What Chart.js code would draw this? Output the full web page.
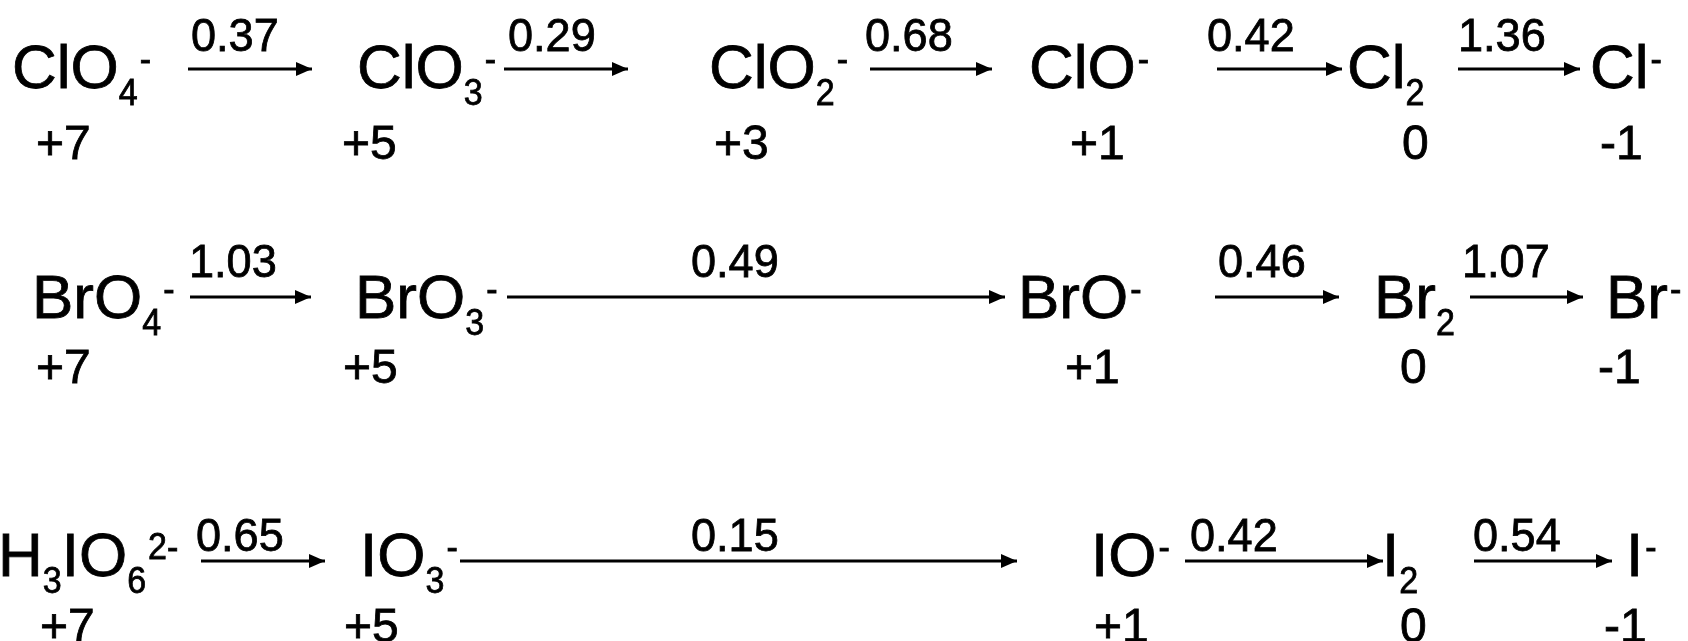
<!DOCTYPE html>
<html>
<head>
<meta charset="utf-8">
<title>Latimer diagram</title>
<script src="https://cdn.jsdelivr.net/npm/chart.js@4.4.0/dist/chart.umd.min.js"></script>
<style>
body{margin:0;background:#fff;}
#wrap{width:1688px;height:641px;}
</style>
</head>
<body>
<div id="wrap"><canvas id="myChart"></canvas></div>
<script>
// 화학종 ( _ = 다음 한 글자 아래첨자, ^ = 나머지 위첨자 )
var clSpecies = ['ClO_4^-', 'ClO_3^-', 'ClO_2^-', 'ClO^-', 'Cl_2', 'Cl^-'];
var brSpecies = ['BrO_4^-', 'BrO_3^-', 'BrO^-', 'Br_2', 'Br^-'];
var iSpecies = ['H_3IO_6^2-', 'IO_3^-', 'IO^-', 'I_2', 'I^-'];

// 산화수
var clOx = ['+7', '+5', '+3', '+1', '0', '-1'];
var brOx = ['+7', '+5', '+1', '0', '-1'];
var iOx = ['+7', '+5', '+1', '0', '-1'];

// 표준 환원 전위 (V)
var clPot = [0.37, 0.29, 0.68, 0.42, 1.36];
var brPot = [1.03, 0.49, 0.46, 1.07];
var iPot = [0.65, 0.15, 0.42, 0.54];

// 배치 (축 단위 = 1688x641 화면)
var speciesY = [88, 318, 576];
var oxY = [159, 383, 642];
var potY = [51, 277, 551];
var arrowY = [69, 297, 561];

var clSpeciesX = [12, 357, 709, 1029, 1347, 1590];
var brSpeciesX = [32, 355, 1018, 1374, 1606];
var iSpeciesX = [-2, 360, 1091, 1382, 1626];

var clOxX = [36, 342, 714, 1070, 1402, 1600];
var brOxX = [36, 343, 1065, 1400, 1598];
var iOxX = [40, 344, 1094, 1400, 1604];

var clArrowX = [[188, 312], [504, 628], [870, 992], [1217, 1342], [1458, 1580]];
var brArrowX = [[190, 311], [507, 1005], [1215, 1339], [1470, 1583]];
var iArrowX = [[201, 325], [460, 1017], [1185, 1383], [1474, 1612]];

var clPotX = [191, 508, 865, 1207, 1458];
var brPotX = [189, 691, 1218, 1462];
var iPotX = [196, 691, 1190, 1473];

var FONT = '"Liberation Sans", Arial, sans-serif';
var HEAD_LEN = 16;
var HEAD_W = 7;

function pts(xs, y){
	return xs.map(function(x){ return {x:x, y:y}; });
}

// 한 줄 (원소 하나) 데이터셋 만들기
function rowSets(r, species, sx, ox, ox_x, pot, px, arrows){
	var sets = [];
	sets.push({kind:'species', texts:species, data:pts(sx, speciesY[r]), pointRadius:0});
	sets.push({kind:'text', size:48, sx:1, texts:ox, data:pts(ox_x, oxY[r]), pointRadius:0});
	sets.push({kind:'text', size:46, sx:0.98, texts:pot.map(function(v){ return v.toFixed(2); }), data:pts(px, potY[r]), pointRadius:0});
	arrows.forEach(function(a){
		sets.push({
			kind:'arrow',
			data:[{x:a[0], y:arrowY[r]}, {x:a[1], y:arrowY[r]}],
			showLine:true,
			borderColor:'#000',
			borderWidth:3,
			pointRadius:0
		});
	});
	return sets;
}

// 글자 (가로 비율 조절, 조금 굵게)
function drawText(ctx, t, x, y, size, sx){
	ctx.font = size + 'px ' + FONT;
	ctx.save();
	ctx.translate(x, y);
	ctx.scale(sx, 1);
	ctx.fillText(t, 0, 0);
	ctx.strokeText(t, 0, 0);
	ctx.restore();
	return ctx.measureText(t).width * sx;
}

// 화학식 그리기 (아래첨자 / 위첨자)
function drawFormula(ctx, f, x, y){
	var parts = [];
	var buf = '';
	var i = 0;
	while(i < f.length){
		var c = f[i];
		if(c == '_'){
			if(buf){ parts.push({t:buf, m:'main'}); buf=''; }
			parts.push({t:f[i+1], m:'sub'});
			i += 2;
			continue;
		}
		if(c == '^'){
			if(buf){ parts.push({t:buf, m:'main'}); buf=''; }
			parts.push({t:f.slice(i+1), m:'sup'});
			break;
		}
		buf += c;
		i++;
	}
	if(buf) parts.push({t:buf, m:'main'});

	var cx = x;
	parts.forEach(function(p){
		if(p.m == 'main'){
			cx += drawText(ctx, p.t, cx, y, 62, 1);
		}else if(p.m == 'sub'){
			cx += drawText(ctx, p.t, cx, y + 17, 37, 0.92);
		}else{
			cx += 2;
			cx += drawText(ctx, p.t, cx, y - 17, 37, 0.92);
		}
	});
}

var textPlugin = {
	id:'latimerText',
	afterDatasetsDraw:function(chart){
		var ctx = chart.ctx;
		ctx.save();
		ctx.fillStyle = '#000';
		ctx.strokeStyle = '#000';
		ctx.lineWidth = 0.8;
		ctx.textAlign = 'left';
		ctx.textBaseline = 'alphabetic';
		chart.data.datasets.forEach(function(ds, i){
			var meta = chart.getDatasetMeta(i);
			if(ds.kind == 'arrow'){
				// 화살촉
				var tip = meta.data[meta.data.length - 1];
				ctx.beginPath();
				ctx.moveTo(tip.x, tip.y);
				ctx.lineTo(tip.x - HEAD_LEN, tip.y - HEAD_W);
				ctx.lineTo(tip.x - HEAD_LEN, tip.y + HEAD_W);
				ctx.closePath();
				ctx.fill();
				return;
			}
			meta.data.forEach(function(pt, j){
				if(ds.kind == 'species'){
					drawFormula(ctx, ds.texts[j], pt.x, pt.y);
				}else{
					drawText(ctx, ds.texts[j], pt.x, pt.y, ds.size, ds.sx);
				}
			});
		});
		ctx.restore();
	}
};

var datasets = []
	.concat(rowSets(0, clSpecies, clSpeciesX, clOx, clOxX, clPot, clPotX, clArrowX))
	.concat(rowSets(1, brSpecies, brSpeciesX, brOx, brOxX, brPot, brPotX, brArrowX))
	.concat(rowSets(2, iSpecies, iSpeciesX, iOx, iOxX, iPot, iPotX, iArrowX));

var ctx = document.getElementById('myChart').getContext('2d');
var myChart = new Chart(ctx, {
	type:'scatter',
	data:{datasets:datasets},
	options:{
		responsive:true,
		maintainAspectRatio:false,
		animation:false,
		events:[],
		layout:{padding:0},
		plugins:{legend:{display:false}, tooltip:{enabled:false}},
		scales:{
			x:{type:'linear', min:0, max:1688, display:false},
			y:{type:'linear', min:0, max:641, reverse:true, display:false}
		}
	},
	plugins:[textPlugin]
});
</script>
</body>
</html>
